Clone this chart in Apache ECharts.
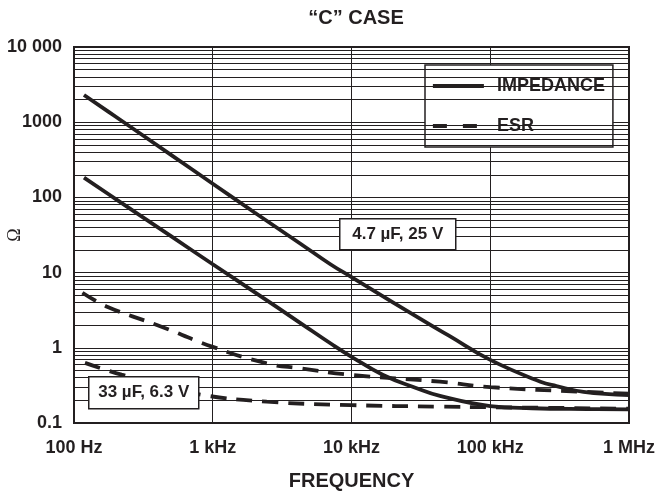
<!DOCTYPE html>
<html>
<head>
<meta charset="utf-8">
<script src="https://cdn.jsdelivr.net/npm/echarts@6/dist/echarts.min.js"></script>
<style>
  html, body { margin: 0; padding: 0; background: #fff; }
  #chart { width: 657px; height: 493px; }
</style>
</head>
<body>
<div id="chart"></div>
<script>
// frequency axis ticks (Hz) and labels
const freqTicks = [100, 1000, 10000, 100000, 1000000];
const freqLabels = ['100 Hz', '1 kHz', '10 kHz', '100 kHz', '1 MHz'];
const ohmTicks = [0.1, 1, 10, 100, 1000, 10000];
const ohmLabels = ['0.1', '1', '10', '100', '1000', '10 000'];

// 4.7 uF, 25 V
const zHighFreq = [118, 200, 500, 1000, 2000, 4260, 7000, 10000, 20000, 38900, 50000, 100000, 230000, 300000, 470000, 1000000];
const zHigh = [2300, 1180, 368, 152, 63, 24.4, 13, 8.7, 4.0, 1.91, 1.46, 0.69, 0.354, 0.31, 0.26, 0.235];
const esrHighFreq = [115, 175, 400, 1000, 2450, 4260, 10000, 43400, 100000, 470000, 1000000];
const esrHigh = [5.4, 3.5, 2.0, 1.03, 0.62, 0.533, 0.435, 0.354, 0.30, 0.26, 0.245];

// 33 uF, 6.3 V
const zLowFreq = [118, 200, 500, 1000, 2000, 4260, 7400, 10000, 16900, 29500, 43400, 100000, 200000, 500000, 1000000];
const zLow = [183, 95, 30.5, 12.9, 5.5, 2.15, 1.08, 0.76, 0.435, 0.29, 0.229, 0.168, 0.157, 0.153, 0.152];
const esrLowFreq = [120, 220, 500, 850, 2450, 10000, 43400, 100000, 1000000];
const esrLow = [0.63, 0.44, 0.30, 0.235, 0.192, 0.173, 0.165, 0.162, 0.155];

// minor horizontal grid (2..9 in each decade)
const minorGrid = [];
[0.1, 1, 10, 100, 1000].forEach(d => {
    for (let k = 2; k <= 9; k++) minorGrid.push(+(d * k).toPrecision(3));
});

const ink = '#231f20';
const font = 'Liberation Sans, Arial, Helvetica, sans-serif';
const pair = (xs, ys) => xs.map((x, i) => [x, ys[i]]);
const labelFor = (ticks, labels) => v => {
    const i = ticks.findIndex(t => Math.abs(Math.log10(t) - Math.log10(v)) < 1e-6);
    return i < 0 ? '' : labels[i];
};

const solid = { color: ink, width: 3.8, type: 'solid' };
const dashed = { color: ink, width: 3.8, type: [16, 10] };
const curve = (name, data, lineStyle) => ({
    name, type: 'line', data, smooth: 0.45,
    showSymbol: false, symbol: 'none', lineStyle, itemStyle: { color: ink }, z: 5
});

const option = {
    animation: false,
    backgroundColor: '#fff',
    title: {
        text: '\u201cC\u201d CASE',
        left: 351, top: 3, textAlign: 'center',
        textStyle: { fontFamily: font, fontSize: 20, fontWeight: 'bold', color: ink }
    },
    legend: {
        data: [
            { name: 'IMPEDANCE', lineStyle: { type: 'solid' } },
            { name: 'ESR', lineStyle: { type: [14, 16] } }
        ],
        orient: 'vertical',
        left: 425, top: 65,
        padding: [12, 8, 12, 6],
        itemGap: 22,
        itemWidth: 51, itemHeight: 16,
        backgroundColor: '#fff',
        borderColor: ink, borderWidth: 1.5,
        itemStyle: { opacity: 0 },
        lineStyle: { width: 3.8, color: ink },
        textStyle: { fontFamily: font, fontSize: 18, fontWeight: 'bold', color: ink, padding: [0, 0, 0, 8] }
    },
    grid: {
        left: 74, right: 28, top: 47, bottom: 70,
        show: true, borderColor: ink, borderWidth: 2,
        outerBoundsMode: 'none'
    },
    xAxis: {
        type: 'log', logBase: 10, min: 100, max: 1000000, splitNumber: 4,
        name: 'FREQUENCY', nameLocation: 'middle', nameGap: 48, nameMoveOverlap: false,
        nameTextStyle: { fontFamily: font, fontSize: 20, fontWeight: 'bold', color: ink },
        axisLine: { lineStyle: { color: ink, width: 2 } },
        axisTick: { show: false },
        axisLabel: { margin: 16, fontFamily: font, fontSize: 18, fontWeight: 'bold', color: ink,
            formatter: labelFor(freqTicks, freqLabels) },
        splitLine: { show: true, lineStyle: { color: ink, width: 1 } }
    },
    yAxis: {
        type: 'log', logBase: 10, min: 0.1, max: 10000, splitNumber: 5,
        name: '\u03a9', nameLocation: 'middle', nameGap: 50, nameRotate: 90, nameMoveOverlap: false,
        nameTextStyle: { fontFamily: 'Liberation Serif, Times New Roman, serif', fontSize: 18, color: ink },
        axisLine: { lineStyle: { color: ink, width: 2 } },
        axisTick: { show: false },
        axisLabel: { margin: 12, fontFamily: font, fontSize: 18, fontWeight: 'bold', color: ink,
            formatter: labelFor(ohmTicks, ohmLabels) },
        splitLine: { show: true, lineStyle: { color: ink, width: 1 } }
    },
    series: [
        {
            name: 'grid', type: 'line', data: [], z: 1, silent: true,
            markLine: {
                silent: true, symbol: 'none', animation: false,
                label: { show: false },
                lineStyle: { color: ink, width: 1, type: 'solid' },
                data: minorGrid.map(v => ({ yAxis: v }))
            }
        },
        curve('IMPEDANCE', pair(zHighFreq, zHigh), solid),
        curve('IMPEDANCE', pair(zLowFreq, zLow), solid),
        curve('ESR', pair(esrHighFreq, esrHigh), dashed),
        curve('ESR', pair(esrLowFreq, esrLow), dashed)
    ],
    graphic: [
        {
            type: 'group', left: 339, top: 218, z: 100,
            children: [
                { type: 'rect', z: 100, shape: { x: 0, y: 0, width: 116, height: 31 }, style: { fill: '#fff', stroke: ink, lineWidth: 1.5 } },
                { type: 'text', z: 101, x: 58, y: 16, style: { text: '4.7 \u00b5F, 25 V', fill: ink, font: 'bold 17px ' + font, align: 'center', verticalAlign: 'middle' } }
            ]
        },
        {
            type: 'group', left: 88, top: 376, z: 100,
            children: [
                { type: 'rect', z: 100, shape: { x: 0, y: 0, width: 110, height: 32 }, style: { fill: '#fff', stroke: ink, lineWidth: 1.5 } },
                { type: 'text', z: 101, x: 55, y: 16, style: { text: '33 \u00b5F, 6.3 V', fill: ink, font: 'bold 17px ' + font, align: 'center', verticalAlign: 'middle' } }
            ]
        }
    ]
};

echarts.init(document.getElementById('chart')).setOption(option);
</script>
</body>
</html>
